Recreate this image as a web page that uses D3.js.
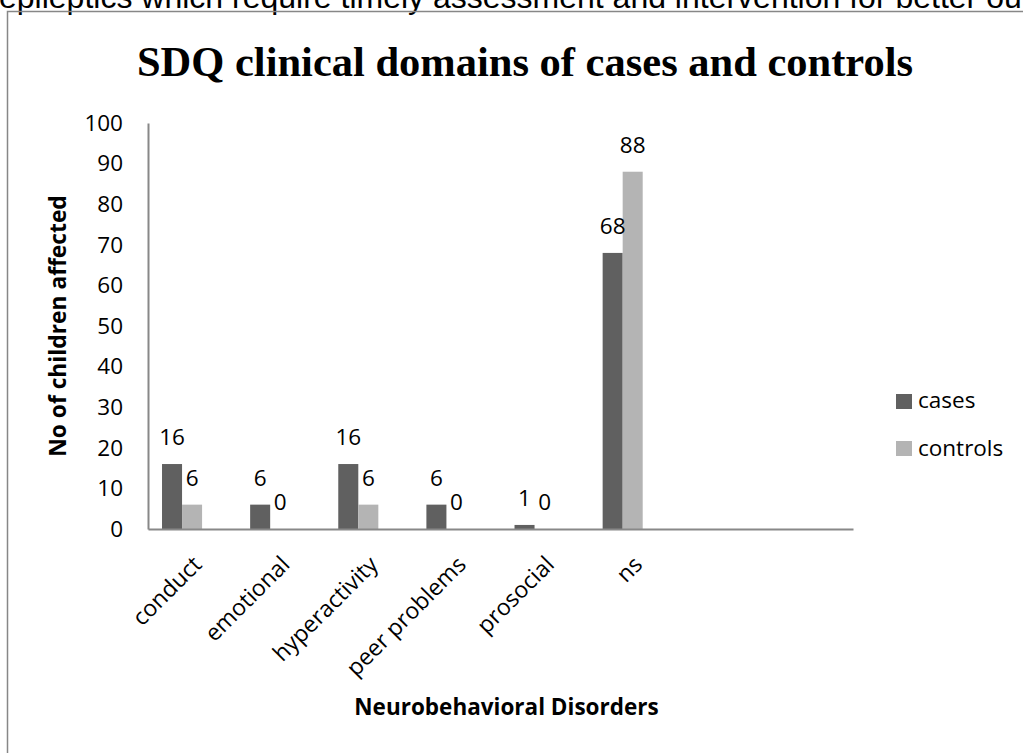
<!DOCTYPE html>
<html>
<head>
<meta charset="utf-8">
<script src="https://cdn.jsdelivr.net/npm/d3@7"></script>
<style>
  body { margin: 0; background: #fff; }
  svg { display: block; }
</style>
</head>
<body>
<div id="chart"></div>
<script>
// Chart data
const categories = ["conduct", "emotional", "hyperactivity", "peer problems", "prosocial", "ns"];
const seriesNames = ["cases", "controls"];
const cases = [16, 6, 16, 6, 1, 68];
const controls = [6, 0, 6, 0, 0, 88];
const yTicks = [0, 10, 20, 30, 40, 50, 60, 70, 80, 90, 100];

const colors = { cases: "#606060", controls: "#b4b4b4" };
const labelFont = "'Open Sans', sans-serif";
const labelSize = "22.5px";

const W = 1023, H = 753;
const svg = d3.select("#chart").append("svg")
    .attr("width", W)
    .attr("height", H);

// cropped line of the surrounding document
svg.append("text")
    .attr("x", -1)
    .attr("y", 8)
    .style("font-family", "'Liberation Sans', Arial, sans-serif")
    .style("font-size", "32px")
    .style("fill", "#000")
    .text("epileptics which require timely assessment and intervention for better ou");

// chart frame
svg.append("rect")
    .attr("x", 7.5)
    .attr("y", 11.5)
    .attr("width", 1100)
    .attr("height", 900)
    .style("fill", "none")
    .style("stroke", "#878787")
    .style("stroke-width", 1.5);

// title
svg.append("text")
    .attr("x", 525)
    .attr("y", 76)
    .attr("text-anchor", "middle")
    .style("font-family", "'Liberation Serif', 'Times New Roman', serif")
    .style("font-weight", "bold")
    .style("font-size", "42.5px")
    .text("SDQ clinical domains of cases and controls");

// plot area
const plot = { left: 148, right: 853, top: 123, bottom: 529 };
const nSlots = 8; // Excel range had two empty rows after "ns"

const x0 = d3.scaleBand()
    .domain(d3.range(nSlots))
    .range([plot.left, plot.right])
    .padding(0);

// three slots per group (third series empty in source)
const x1 = d3.scaleBand()
    .domain([0, 1, 2])
    .range([0, x0.bandwidth()])
    .paddingInner(0)
    .paddingOuter(0.7);

const y = d3.scaleLinear()
    .domain([0, 100])
    .range([plot.bottom, plot.top]);

const rows = categories.map((c, i) => ({ cat: c, i: i, values: [cases[i], controls[i]] }));

// bars
const groups = svg.append("g").selectAll("g")
    .data(rows)
    .enter()
    .append("g")
    .attr("transform", d => "translate(" + x0(d.i) + ",0)");

groups.selectAll("rect")
    .data(d => d.values.map((v, k) => ({ v: v, k: k })))
    .enter()
    .append("rect")
    .attr("x", d => x1(d.k))
    .attr("width", x1.bandwidth())
    .attr("y", d => y(d.v))
    .attr("height", d => y(0) - y(d.v))
    .style("fill", d => colors[seriesNames[d.k]]);

// data labels
groups.selectAll("text")
    .data(d => d.values.map((v, k) => ({ v: v, k: k })))
    .enter()
    .append("text")
    .attr("x", d => x1(d.k) + x1.bandwidth() / 2)
    .attr("y", d => y(d.v) - 19)
    .attr("text-anchor", "middle")
    .style("font-family", labelFont)
    .style("font-size", labelSize)
    .text(d => d.v);

// y axis
const yAxis = svg.append("g")
    .attr("transform", "translate(" + plot.left + ",0)")
    .call(d3.axisLeft(y).tickValues(yTicks).tickSize(0).tickPadding(25));
yAxis.select(".domain").style("stroke", "#888").style("stroke-width", 2);
yAxis.selectAll("text")
    .style("font-family", labelFont)
    .style("font-size", labelSize)
    .style("fill", "#000");

// x axis
const xAxis = svg.append("g")
    .attr("transform", "translate(0," + plot.bottom + ")")
    .call(d3.axisBottom(x0).tickSize(0).tickFormat(i => categories[i] || ""));
xAxis.select(".domain").style("stroke", "#888").style("stroke-width", 2);
xAxis.selectAll("text")
    .attr("x", 0)
    .attr("y", 0)
    .attr("dy", 0)
    .attr("text-anchor", "end")
    .attr("transform", "translate(11,37) rotate(-45)")
    .style("font-family", labelFont)
    .style("font-size", "23px")
    .style("fill", "#000");

// axis titles
svg.append("text")
    .attr("transform", "translate(66," + (plot.top + plot.bottom) / 2 + ") rotate(-90)")
    .attr("text-anchor", "middle")
    .style("font-family", labelFont)
    .style("font-weight", "bold")
    .style("font-size", "22.8px")
    .text("No of children affected");

svg.append("text")
    .attr("x", (plot.left + plot.right) / 2 + 6)
    .attr("y", 715)
    .attr("text-anchor", "middle")
    .style("font-family", labelFont)
    .style("font-weight", "bold")
    .style("font-size", "22.5px")
    .text("Neurobehavioral Disorders");

// legend
const legend = svg.append("g")
    .attr("transform", "translate(896,394)");

legend.selectAll("rect")
    .data(seriesNames)
    .enter()
    .append("rect")
    .attr("x", 0)
    .attr("y", (d, i) => i * 47)
    .attr("width", 16)
    .attr("height", 15)
    .style("fill", d => colors[d]);

legend.selectAll("text")
    .data(seriesNames)
    .enter()
    .append("text")
    .attr("x", 22)
    .attr("y", (d, i) => i * 48 + 14)
    .style("font-family", labelFont)
    .style("font-size", labelSize)
    .text(d => d);
</script>
</body>
</html>
